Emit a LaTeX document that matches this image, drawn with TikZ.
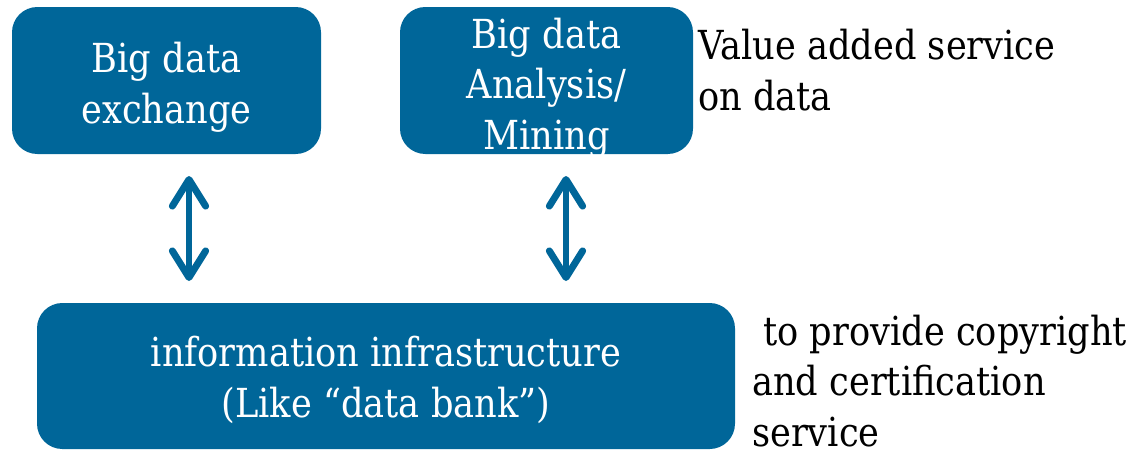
\documentclass[tikz,border=0pt]{standalone}
\usepackage{fontspec}
\setmainfont[FakeStretch=0.88]{DejaVu Serif}
\usetikzlibrary{arrows.meta}
\definecolor{boxblue}{RGB}{0,102,153}
\tikzset{
  bluebox/.style={fill=boxblue, draw=none, rounded corners=19pt, inner sep=0pt},
  boxtext/.style={text=white, align=center, inner sep=0pt},
  sidetext/.style={text=black, align=left, inner sep=0pt},
  dblarrow/.style={draw=boxblue, line width=5.2pt,
    {Straight Barb[round,length=20pt,width=25pt]}-{Straight Barb[round,length=20pt,width=25pt]}},
  txt/.style={font=\fontsize{30}{38}\selectfont}
}
\begin{document}
\begin{tikzpicture}[x=0.75pt,y=-0.75pt]
  \useasboundingbox (0,0) rectangle (1140,455);
  % upper boxes
  \node[bluebox, minimum width=309*0.75pt, minimum height=147*0.75pt]
    (exch) at (166.5,80.5) {};
  \node[boxtext, txt] (exchtxt) at (166.5,87) {Big data\\exchange};
  \node[bluebox, minimum width=293*0.75pt, minimum height=147*0.75pt]
    (mine) at (546.5,80.5) {};
  \node[boxtext, txt] (minetxt) at (546.5,88) {Big data\\Analysis/\\Mining};
  % lower box
  \node[bluebox, minimum width=698*0.75pt, minimum height=146*0.75pt]
    (infra) at (386,376) {};
  \node[boxtext, txt] (infratxt) at (386,380)
    {information infrastructure\\(Like “data bank”)};
  % side notes
  \node[sidetext, txt, anchor=west] (note1) at (698,70)
    {Value added service\\on data};
  \node[sidetext, txt, anchor=west] (note2) at (752,381)
    {\ to provide copyright\\and certification\\service};
  % links between the layers
  \coordinate (a1t) at (189,176);
  \coordinate (a1b) at (189,281);
  \coordinate (a2t) at (566,176);
  \coordinate (a2b) at (566,281);
  \draw[dblarrow] (a1t) -- (a1b);
  \draw[dblarrow] (a2t) -- (a2b);
\end{tikzpicture}
\end{document}
